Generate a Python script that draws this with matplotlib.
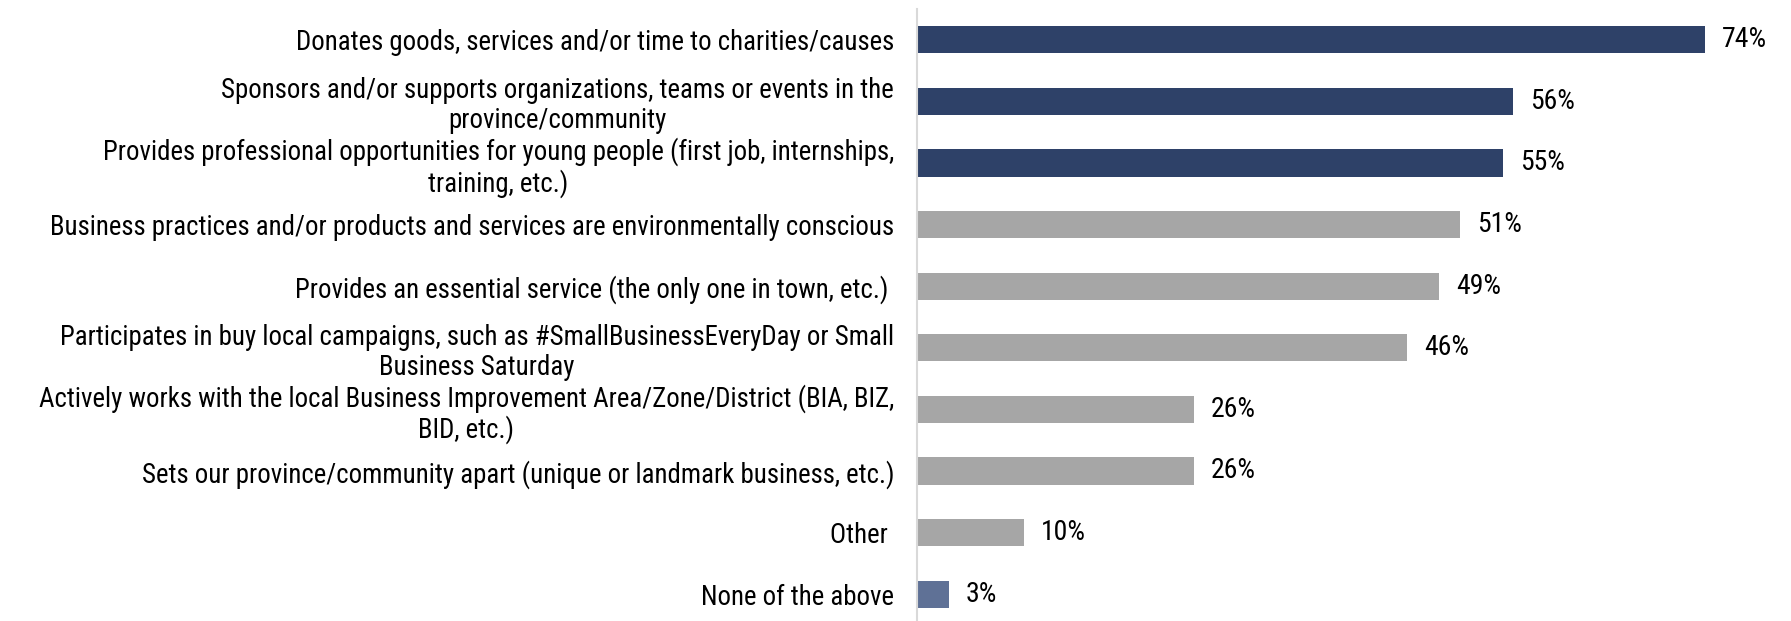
import matplotlib
matplotlib.use("Agg")
import matplotlib.pyplot as plt

categories = [
    "Donates goods, services and/or time to charities/causes",
    "Sponsors and/or supports organizations, teams or events in the\nprovince/community",
    "Provides professional opportunities for young people (first job, internships,\ntraining, etc.)",
    "Business practices and/or products and services are environmentally conscious",
    "Provides an essential service (the only one in town, etc.) ",
    "Participates in buy local campaigns, such as #SmallBusinessEveryDay or Small\nBusiness Saturday",
    "Actively works with the local Business Improvement Area/Zone/District (BIA, BIZ,\nBID, etc.)",
    "Sets our province/community apart (unique or landmark business, etc.)",
    "Other ",
    "None of the above",
]
values = [74, 56, 55, 51, 49, 46, 26, 26, 10, 3]
colors = ["#2E4168"] * 3 + ["#A6A6A6"] * 6 + ["#5F7196"]

W, H = 1791, 621
fig = plt.figure(figsize=(W / 100, H / 100), dpi=100)
left_px, top_px, bottom_px = 917, 9, 625
xmax = 80
px_per = 10.65
ax = fig.add_axes([left_px / W, 1 - bottom_px / H, xmax * px_per / W, (bottom_px - top_px) / H])

fam = ["Roboto Condensed", "DejaVu Sans"]
y = list(range(len(values)))
ax.barh(y, values, height=0.44, color=colors)
ax.set_ylim(len(values) - 0.5, -0.5)
ax.set_xlim(0, xmax)
ax.set_yticks(y)
ax.set_yticklabels(categories, fontsize=19.4, family=fam, color="#000000")
for t in ax.get_yticklabels():
    t.set_multialignment("center")
    t.set_linespacing(1.13)
ax.tick_params(axis="y", length=0, pad=16.5)
ax.set_xticks([])
for s in ["top", "right", "bottom"]:
    ax.spines[s].set_visible(False)
ax.spines["left"].set_color("#D9D9D9")
ax.spines["left"].set_linewidth(1.5)
for yi, v in zip(y, values):
    ax.text(v + 1.6, yi, f"{v}%", va="center", ha="left", fontsize=20,
            family=fam, color="#000000")

fig.savefig("out.png", dpi=100)
